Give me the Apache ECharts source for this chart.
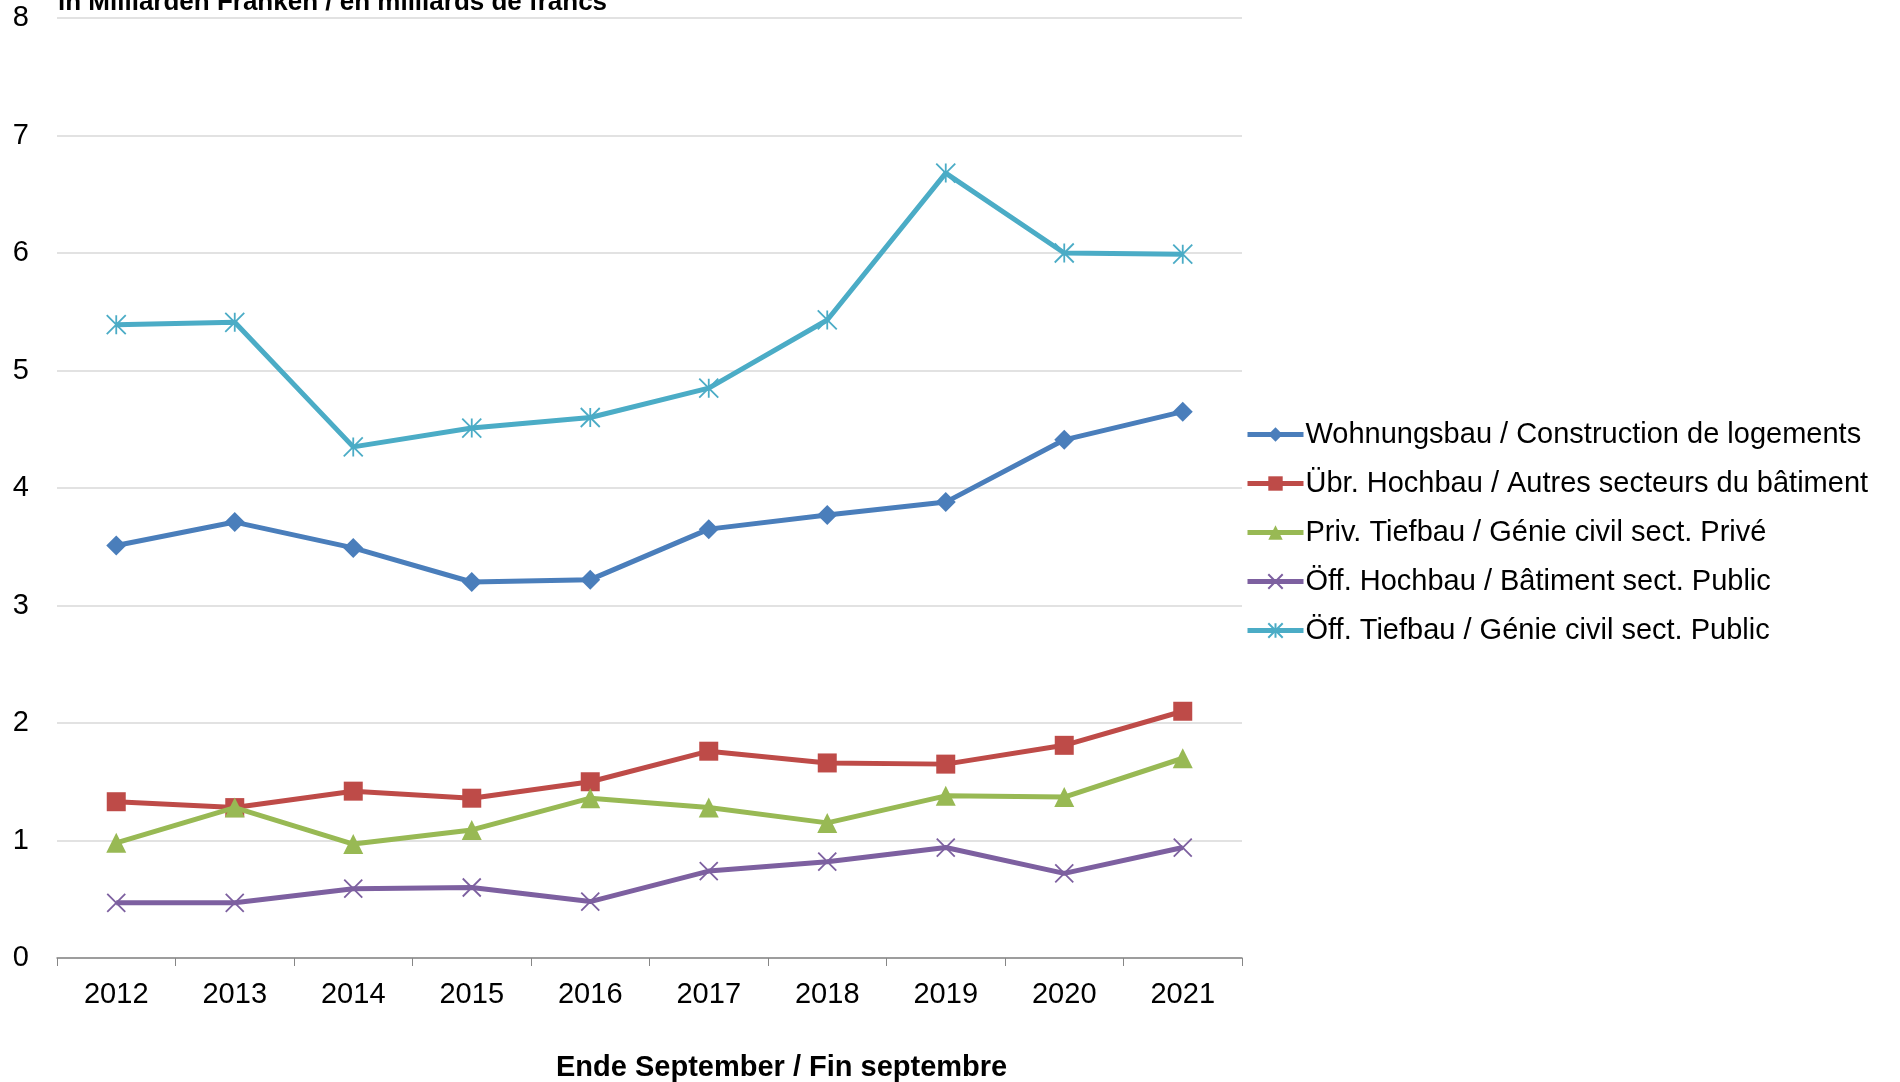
<!DOCTYPE html>
<html><head><meta charset="utf-8">
<script src="https://cdn.jsdelivr.net/npm/echarts@6/dist/echarts.min.js"></script>
<style>html,body{margin:0;padding:0;background:#fff}#c{width:1900px;height:1082px}</style>
</head><body><div id="c"></div>
<script>
const years = ['2012','2013','2014','2015','2016','2017','2018','2019','2020','2021'];
const wohnungsbau = [3.51,3.71,3.49,3.20,3.22,3.65,3.77,3.88,4.41,4.65];
const uebrHochbau = [1.33,1.28,1.42,1.36,1.50,1.76,1.66,1.65,1.81,2.10];
const privTiefbau = [0.98,1.28,0.97,1.09,1.36,1.28,1.15,1.38,1.37,1.70];
const oeffHochbau = [0.47,0.47,0.59,0.60,0.48,0.74,0.82,0.94,0.72,0.94];
const oeffTiefbau = [5.39,5.41,4.35,4.51,4.60,4.85,5.43,6.68,6.00,5.99];
const names = [
  'Wohnungsbau / Construction de logements',
  'Übr. Hochbau / Autres secteurs du bâtiment',
  'Priv. Tiefbau / Génie civil sect. Privé',
  'Öff. Hochbau / Bâtiment sect. Public',
  'Öff. Tiefbau / Génie civil sect. Public'
];
const yTicks = {min:0, max:8, interval:1};
const titleText = 'in Milliarden Franken / en milliards de francs';
const xName = 'Ende September / Fin septembre';

const FONT = '"Liberation Sans", Arial, sans-serif';
const colors = ['#4A7EBB','#BE4B48','#98B954','#7D60A0','#4BACC6'];
const X_PATH = 'path://M0,0L10,10M10,0L0,10';
const AST_PATH = 'path://M0,0L10,10M10,0L0,10M5,0L5,10';

function mk(i, data, symbol, size, stroke) {
  return {
    name: names[i], type: 'line', data: data,
    symbol: symbol, symbolSize: size,
    lineStyle: {color: colors[i], width: 5},
    itemStyle: stroke ? {color: colors[i], borderColor: colors[i], borderWidth: 1.8} : {color: colors[i]},
    z: 2 + i
  };
}

const chart = echarts.init(document.getElementById('c'));
chart.setOption({
  animation: false,
  backgroundColor: '#fff',
  grid: {left: 57, right: 658, top: 18, bottom: 124},
  xAxis: {
    type: 'category', data: years, boundaryGap: true,
    axisLine: {lineStyle: {color: '#868686', width: 1.5}},
    axisTick: {show: true, length: 8, lineStyle: {color: '#868686'}},
    axisLabel: {color: '#000', fontSize: 29, fontFamily: FONT, margin: 22}
  },
  yAxis: {
    type: 'value', min: yTicks.min, max: yTicks.max, interval: yTicks.interval,
    axisLine: {show: false}, axisTick: {show: false},
    splitLine: {lineStyle: {color: '#D9D9D9', width: 1.5}},
    axisLabel: {color: '#000', fontSize: 29, fontFamily: FONT, margin: 28}
  },
  legend: {
    orient: 'vertical', left: 1240, top: 414,
    itemWidth: 56, itemHeight: 18, itemGap: 18,
    lineStyle: {width: 5},
    textStyle: {color: '#000', fontSize: 29, fontFamily: FONT, lineHeight: 31, padding: [0,0,0,-3]},
    data: names
  },
  graphic: [
    {type: 'text', left: 58, top: -10, style: {text: titleText, font: 'bold 26px ' + FONT, fill: '#000'}},
    {type: 'text', left: 556, top: 1053, style: {text: xName, font: 'bold 29px ' + FONT, fill: '#000'}}
  ],
  series: [
    mk(0, wohnungsbau, 'diamond', 20),
    mk(1, uebrHochbau, 'rect', 19),
    mk(2, privTiefbau, 'triangle', 20),
    mk(3, oeffHochbau, X_PATH, 18, true),
    mk(4, oeffTiefbau, AST_PATH, 19, true)
  ]
});
</script></body></html>
